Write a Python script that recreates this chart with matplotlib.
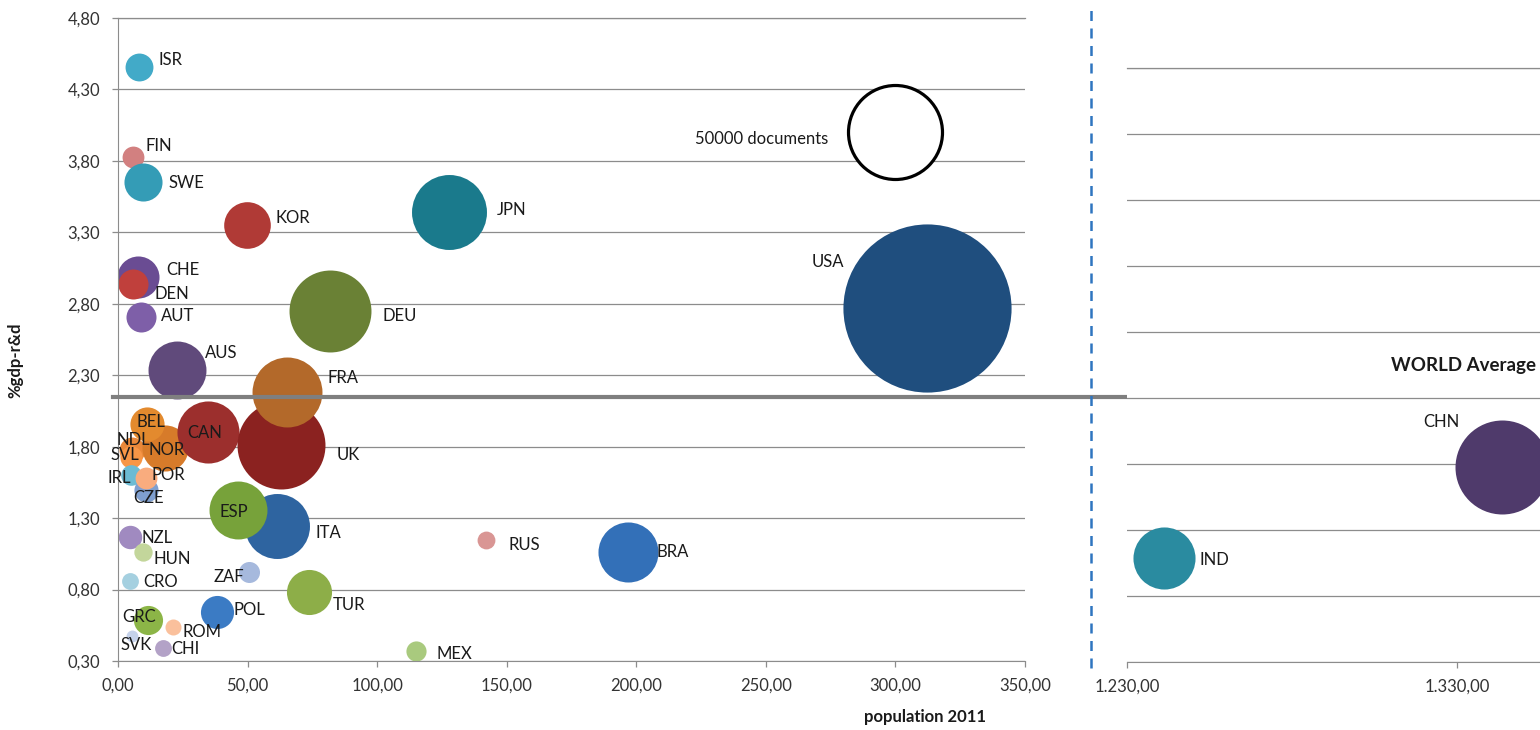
import matplotlib
matplotlib.use('Agg')
import matplotlib.pyplot as plt
from matplotlib.lines import Line2D
from matplotlib.ticker import FuncFormatter, FixedLocator
import numpy as np

plt.rcParams['font.family'] = ['Lato', 'DejaVu Sans']

# data (population in millions, R&D as % of GDP, documents)
countries = ['USA', 'JPN', 'DEU', 'KOR', 'ISR', 'FIN', 'SWE', 'CHE', 'DEN', 'AUT',
             'AUS', 'NDL', 'SVL', 'NOR', 'BEL', 'CAN', 'UK', 'FRA', 'IRL', 'CZE',
             'POR', 'ITA', 'ESP', 'NZL', 'HUN', 'CRO', 'ZAF', 'TUR', 'POL', 'GRC',
             'ROM', 'SVK', 'CHI', 'RUS', 'BRA', 'MEX', 'CHN', 'IND']
population = [312.2, 127.8, 81.8, 49.7, 8.1, 5.7, 9.8, 7.9, 5.6, 8.7,
              22.6, 5.5, 5.0, 18.1, 11.1, 34.9, 62.9, 65.2, 4.9, 10.8,
              10.7, 61.2, 46.4, 4.6, 9.8, 4.6, 50.7, 73.8, 38.3, 11.7,
              21.4, 5.5, 17.2, 142.0, 196.8, 115.0, 1343.6, 1241.2]
rd_gdp = [2.77, 3.44, 2.75, 3.35, 4.46, 3.83, 3.65, 2.99, 2.94, 2.71,
          2.34, 1.78, 1.73, 1.79, 1.96, 1.90, 1.81, 2.18, 1.60, 1.50,
          1.58, 1.245, 1.36, 1.17, 1.06, 0.86, 0.92, 0.785, 0.64, 0.59,
          0.536, 0.475, 0.39, 1.147, 1.06, 0.37, 1.78, 1.09]
documents = [160000, 31800, 38000, 12300, 4400, 2700, 8200, 10000, 5100, 5100,
             19000, 3800, 2800, 12000, 6600, 21800, 43800, 27700, 2400, 3300,
             2700, 23900, 19000, 3100, 1900, 1600, 2500, 11500, 6200, 4800,
             1450, 800, 1600, 1800, 20400, 2300, 50000, 21800]

y_ticks = [0.3, 0.8, 1.3, 1.8, 2.3, 2.8, 3.3, 3.8, 4.3, 4.8]
x_ticks_left = [0, 50, 100, 150, 200, 250, 300, 350]
x_ticks_right = [1230, 1330]

world_avg = 2.15
legend_docs = 50000
legend_pos = (300, 4.0)

colors = {
    'USA': '#1F4E7E', 'JPN': '#1A7A8C', 'DEU': '#6A8135', 'KOR': '#B03A36',
    'ISR': '#42AAC8', 'FIN': '#D28080', 'SWE': '#349CB6', 'CHE': '#6A4C93',
    'DEN': '#C0403C', 'AUT': '#7E5FA8', 'AUS': '#604A7B', 'NDL': '#E9883A',
    'SVL': '#F79646', 'NOR': '#D77B2A', 'BEL': '#E38A2E', 'CAN': '#9C2F2D',
    'UK': '#8B2220', 'FRA': '#B3692A', 'IRL': '#6CBBD3', 'CZE': '#7F9FCF',
    'POR': '#F9AC7E', 'ITA': '#2E64A0', 'ESP': '#77A23A', 'NZL': '#A08AC0',
    'HUN': '#C3D69B', 'CRO': '#A5D0E0', 'ZAF': '#A6B9DD', 'TUR': '#8DAE48',
    'POL': '#3B7BC4', 'GRC': '#8CB547', 'ROM': '#FAC09C', 'SVK': '#C5D2EA',
    'CHI': '#B3A2C7', 'RUS': '#D99694', 'BRA': '#3370B8', 'MEX': '#A9CA7E',
    'CHN': '#4F3A6B', 'IND': '#2A8BA0',
}

# label offsets in pixels (text left edge, vertical centre, up positive) from bubble centre
label_offsets = {
    'USA': (-115, 46), 'JPN': (48, 2), 'DEU': (53, -5), 'KOR': (29, 7),
    'ISR': (20, 7), 'FIN': (13, 11), 'SWE': (25, -1), 'CHE': (28, 7),
    'DEN': (22, -10), 'AUT': (20, 1), 'AUS': (28, 17), 'NDL': (-16, 10),
    'SVL': (-20, 2), 'NOR': (-16, -2), 'BEL': (-10, 2), 'CAN': (-21, -1),
    'UK': (56, -10), 'FRA': (41, 14), 'IRL': (-23, -3), 'CZE': (-13, -8),
    'POR': (6, 3), 'ITA': (39, -7), 'ESP': (-19, -2), 'NZL': (12, -1),
    'HUN': (10, -7), 'CRO': (13, -1), 'ZAF': (-36, -5), 'TUR': (24, -13),
    'POL': (16, 2), 'GRC': (-26, 3), 'ROM': (9, -5), 'SVK': (-12, -9),
    'CHI': (9, -1), 'RUS': (23, -5), 'BRA': (29, 0), 'MEX': (20, -3),
    'CHN': (-79, 45), 'IND': (36, -2),
}

DPI = 100
REF_RADIUS_PX = 47  # radius of the 50000 documents bubble
FS = 12


def bubble_size(docs):
    r_pt = REF_RADIUS_PX * np.sqrt(np.asarray(docs) / legend_docs) * 72 / DPI
    return (2 * r_pt) ** 2


def comma(v, _):
    s = f"{v:,.2f}"
    return s.replace(',', '#').replace('.', ',').replace('#', '.')


grid_c = '#8C8C8C'
txt_c = '#1A1A1A'

fig = plt.figure(figsize=(15.4, 7.3), dpi=DPI)
ax = fig.add_axes([118 / 1540, 69 / 730, 907 / 1540, 643 / 730])
ax2 = fig.add_axes([1127 / 1540, 68 / 730, 413 / 1540, 594 / 730])

for a in (ax, ax2):
    a.set_ylim(0.3, 4.8)
    a.yaxis.set_major_locator(FixedLocator(y_ticks))
    a.grid(axis='y', color=grid_c, linewidth=0.9)
    a.set_axisbelow(True)
    a.spines['top'].set_visible(False)
    a.spines['right'].set_visible(False)
    a.spines['bottom'].set_color(grid_c)
    a.spines['left'].set_color(grid_c)
    a.tick_params(colors=grid_c, labelcolor='#333333', labelsize=FS, length=4, width=0.9)
    a.tick_params(axis='x', pad=8)
    a.tick_params(axis='y', pad=9)
    a.xaxis.set_major_formatter(FuncFormatter(comma))
    a.yaxis.set_major_formatter(FuncFormatter(comma))

ax.set_xlim(0, 350)
ax.xaxis.set_major_locator(FixedLocator(x_ticks_left))
ax2.set_xlim(1230, 1230 + 413 / 3.3)
ax2.xaxis.set_major_locator(FixedLocator(x_ticks_right))
ax2.spines['left'].set_visible(False)
ax2.tick_params(axis='y', left=False, labelleft=False)
ax.axhline(4.8, color=grid_c, linewidth=0.9, clip_on=False)
ax2.axhline(4.8, color=grid_c, linewidth=0.9, clip_on=False)

pop = np.array(population)
rd = np.array(rd_gdp)
docs = np.array(documents)
for i, c in enumerate(countries):
    target = ax if pop[i] <= 350 else ax2
    target.scatter(pop[i], rd[i], s=bubble_size(docs[i]), color=colors[c],
                   linewidths=0, zorder=2 + i * 0.01)
    dx, dy = label_offsets[c]
    target.annotate(c, (pop[i], rd[i]), xytext=(dx, dy), textcoords='offset pixels',
                    ha='left', va='center', fontsize=FS, color=txt_c, zorder=5)

# legend bubble
ax.scatter(*legend_pos, s=bubble_size(legend_docs), facecolors='white',
           edgecolors='black', linewidths=2.3, zorder=3)
ax.annotate(f'{legend_docs} documents', legend_pos, xytext=(-67, -7),
            textcoords='offset pixels', ha='right', va='center', fontsize=FS, color=txt_c)

# world average line across both panels
ax.axhline(world_avg, xmin=-0.005, xmax=1.6, color='#7F7F7F', linewidth=3, clip_on=False, zorder=4)
fig.text(1536 / 1540, (730 - 366) / 730, 'WORLD Average', ha='right', va='center',
         fontsize=13.5, fontweight='bold', color=txt_c)

# axis break marker
fig.add_artist(Line2D([1091 / 1540, 1091 / 1540], [(730 - 668) / 730, (730 - 10) / 730],
                      transform=fig.transFigure, color='#2E75C0', linewidth=1.8,
                      linestyle=(0, (4, 3))))

ax.set_ylabel('%gdp-r&d', fontsize=FS, fontweight='bold', color=txt_c)
ax.yaxis.set_label_coords(-0.104, 0.468)
ax.set_xlabel('population 2011', fontsize=FS, fontweight='bold', color=txt_c)
ax.xaxis.set_label_coords(0.89, -0.075)

fig.savefig('out.png', dpi=DPI)
